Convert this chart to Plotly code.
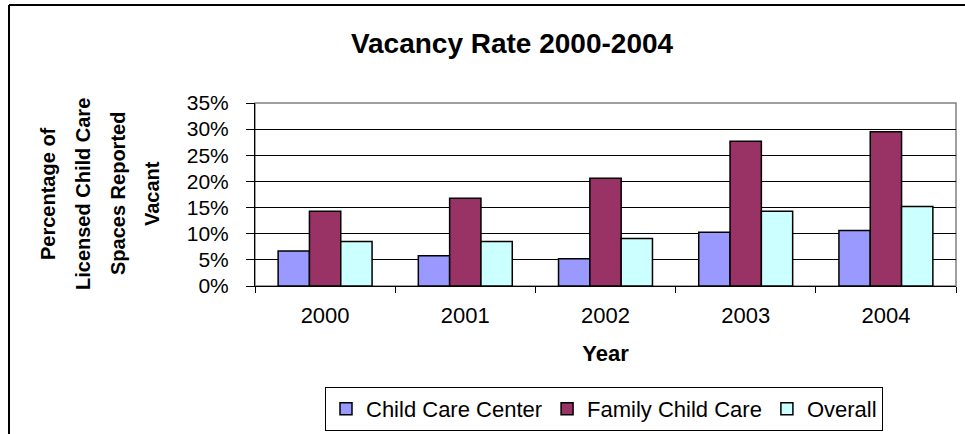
import plotly.graph_objects as go

# Данные (доли, 0.05 = 5%)
years = ["2000", "2001", "2002", "2003", "2004"]
center = [0.067, 0.058, 0.052, 0.103, 0.106]
family = [0.143, 0.168, 0.206, 0.277, 0.295]
overall = [0.085, 0.085, 0.091, 0.143, 0.152]
y_ticks = [0, 0.05, 0.10, 0.15, 0.20, 0.25, 0.30, 0.35]
y_title_lines = ["Percentage of", "Licensed Child Care", "Spaces Reported", "Vacant"]

W, H = 965, 434
ML, MR, MT, MB = 255, 9, 103, 148
PW, PH = W - ML - MR, H - MT - MB

FONT = "Arial, Liberation Sans, sans-serif"


def px_x(p):
    return (p - ML) / PW


def px_y(p):
    return (H - MB - p) / PH


fig = go.Figure()

series = [
    ("Child Care Center", center, "#9999FF"),
    ("Family Child Care", family, "#993366"),
    ("Overall", overall, "#CCFFFF"),
]
for name, vals, color in series:
    fig.add_trace(go.Bar(
        x=years, y=vals, name=name,
        marker=dict(color=color, line=dict(color="black", width=1.5)),
    ))

# Заголовок оси Y — четыре строки с широким интервалом, как в оригинале
annotations = []
for i, line in enumerate(y_title_lines):
    annotations.append(dict(
        text=f"<b>{line}</b>", textangle=-90,
        xref="paper", yref="paper", x=px_x([48, 83, 118, 152][i]), y=px_y(194),
        xanchor="center", yanchor="middle", showarrow=False,
        font=dict(size=20, color="black", family=FONT),
    ))

shapes = [
    # рамка всей диаграммы (левая и верхняя стороны)
    dict(type="line", xref="paper", yref="paper",
         x0=px_x(9), x1=px_x(9), y0=px_y(5), y1=px_y(440),
         line=dict(color="black", width=2)),
    dict(type="line", xref="paper", yref="paper",
         x0=px_x(9), x1=px_x(970), y0=px_y(5), y1=px_y(5),
         line=dict(color="black", width=2)),
    # серая рамка области построения
    dict(type="rect", xref="paper", yref="paper", x0=0, x1=1, y0=0, y1=1,
         line=dict(color="#808080", width=1.5), layer="below"),
]

fig.update_layout(
    width=W, height=H,
    margin=dict(l=ML, r=MR, t=MT, b=MB, autoexpand=False),
    paper_bgcolor="white", plot_bgcolor="white",
    barmode="group", bargap=0.33, bargroupgap=0,
    font=dict(family=FONT, color="black"),
    title=dict(text="<b>Vacancy Rate 2000-2004</b>", x=512 / W, xanchor="center",
               y=1 - 43 / H, yanchor="middle", font=dict(size=28, color="black")),
    xaxis=dict(
        showline=True, linecolor="black", linewidth=1,
        ticks="outside", tickson="boundaries", ticklen=6, tickcolor="black",
        tickfont=dict(size=22), showgrid=False, ticklabelstandoff=10,
        title=dict(text="<b>Year</b>", font=dict(size=22), standoff=18),
    ),
    yaxis=dict(
        range=[0, 0.35], tickvals=y_ticks, tickformat=".0%",
        showline=True, linecolor="black", linewidth=1,
        ticks="outside", ticklen=8, tickcolor="black",
        tickfont=dict(size=21), ticklabelstandoff=13,
        showgrid=True, gridcolor="black", gridwidth=1, zeroline=False,
    ),
    legend=dict(
        orientation="h", x=px_x(604), y=px_y(387), xanchor="center", yanchor="top",
        bordercolor="black", borderwidth=1, font=dict(size=22),
        traceorder="normal",
    ),
    annotations=annotations,
    shapes=shapes,
)

# у страницы по умолчанию отступ 8px — убираем, чтобы совпадали координаты
fig.write_html("out.html", config={"displayModeBar": False},
               post_script="document.body.style.margin='0';")
